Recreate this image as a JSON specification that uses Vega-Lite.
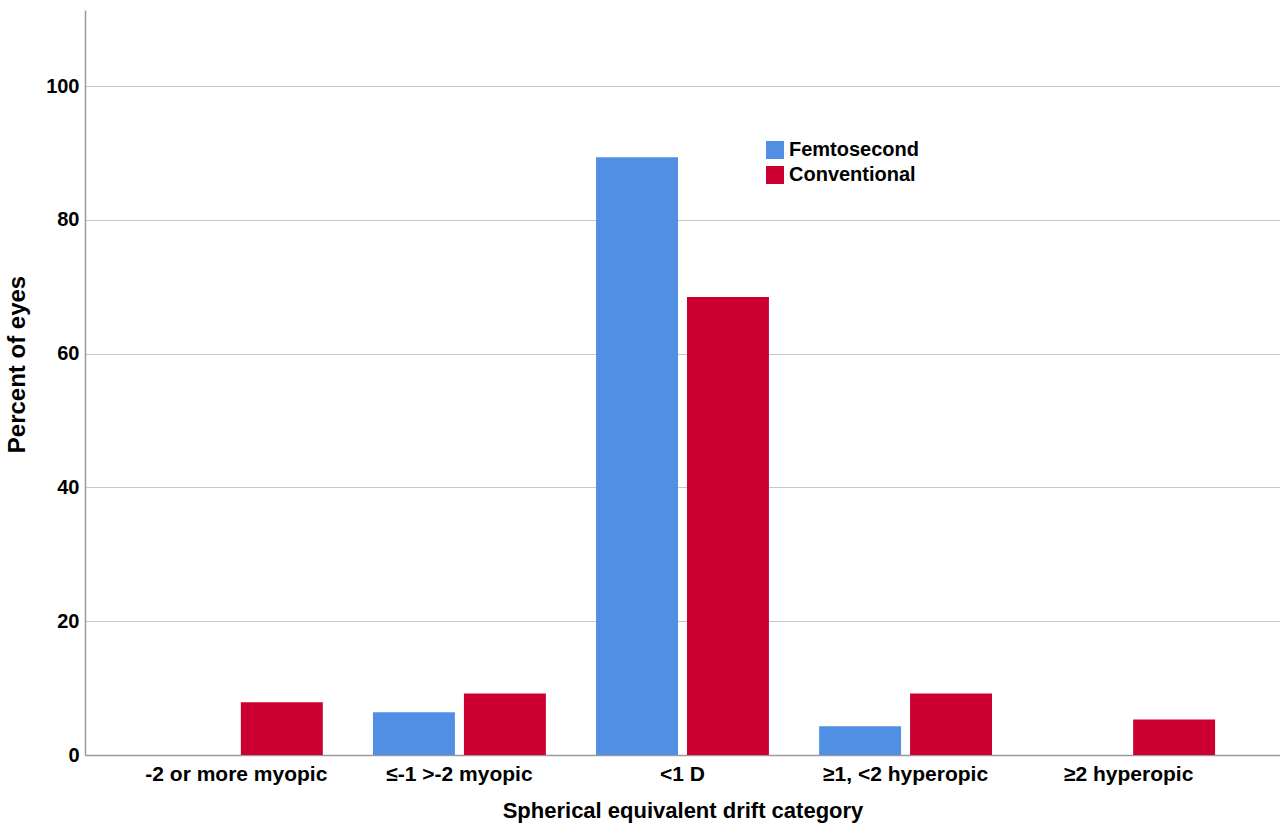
{
  "$schema": "https://vega.github.io/schema/vega-lite/v6.json",
  "width": 1195,
  "height": 745,
  "autosize": {"type": "none"},
  "padding": {"left": 85, "top": 10, "right": 0, "bottom": 72},
  "background": "white",
  "config": {
    "font": "Liberation Sans",
    "view": {"stroke": null}
  },
  "data": {
    "values": [
      {"category": "-2 or more myopic", "group": "Femtosecond", "percent": 0},
      {"category": "-2 or more myopic", "group": "Conventional", "percent": 7.9},
      {"category": "≤-1 >-2 myopic", "group": "Femtosecond", "percent": 6.4},
      {"category": "≤-1 >-2 myopic", "group": "Conventional", "percent": 9.2},
      {"category": "<1 D", "group": "Femtosecond", "percent": 89.4},
      {"category": "<1 D", "group": "Conventional", "percent": 68.5},
      {"category": "≥1, <2 hyperopic", "group": "Femtosecond", "percent": 4.3},
      {"category": "≥1, <2 hyperopic", "group": "Conventional", "percent": 9.2},
      {"category": "≥2 hyperopic", "group": "Femtosecond", "percent": 0},
      {"category": "≥2 hyperopic", "group": "Conventional", "percent": 5.3}
    ]
  },
  "mark": {"type": "bar"},
  "encoding": {
    "x": {
      "field": "category",
      "type": "nominal",
      "sort": ["-2 or more myopic", "≤-1 >-2 myopic", "<1 D", "≥1, <2 hyperopic", "≥2 hyperopic"],
      "scale": {"paddingInner": 0.225, "paddingOuter": 0.291},
      "axis": {
        "title": "Spherical equivalent drift category",
        "titleFont": "Liberation Sans",
        "titleFontSize": 22,
        "titleFontWeight": "bold",
        "titleColor": "black",
        "titlePadding": 16,
        "labelAngle": 0,
        "labelFontSize": 21,
        "labelFontWeight": "bold",
        "labelColor": "black",
        "labelPadding": 8,
        "labelLimit": 0,
        "labelOverlap": false,
        "ticks": false,
        "domainColor": "#9a9a9a",
        "domainWidth": 1.5
      }
    },
    "xOffset": {
      "field": "group",
      "type": "nominal",
      "sort": ["Femtosecond", "Conventional"],
      "scale": {"paddingInner": 0.099, "paddingOuter": 0}
    },
    "y": {
      "field": "percent",
      "type": "quantitative",
      "scale": {"domain": [0, 111.4], "nice": false},
      "axis": {
        "title": "Percent of eyes",
        "titleFont": "Liberation Sans",
        "titleFontSize": 24,
        "titleFontWeight": "bold",
        "titleColor": "black",
        "titleX": -56,
        "titleY": 354,
        "values": [0, 20, 40, 60, 80, 100],
        "labelFontSize": 20,
        "labelFontWeight": "bold",
        "labelColor": "black",
        "labelPadding": 6,
        "ticks": false,
        "grid": true,
        "gridColor": "#c8c8c8",
        "gridWidth": 1.2,
        "domainColor": "#9a9a9a",
        "domainWidth": 1.5
      }
    },
    "color": {
      "field": "group",
      "type": "nominal",
      "sort": ["Femtosecond", "Conventional"],
      "scale": {"domain": ["Femtosecond", "Conventional"], "range": ["#508fe4", "#cc0030"]},
      "legend": {
        "title": null,
        "orient": "none",
        "legendX": 680,
        "legendY": 130,
        "symbolType": "square",
        "symbolSize": 324,
        "symbolStrokeWidth": 0,
        "labelFontSize": 20,
        "labelFontWeight": "bold",
        "labelColor": "black",
        "labelOffset": 4,
        "rowPadding": 5
      }
    }
  }
}
